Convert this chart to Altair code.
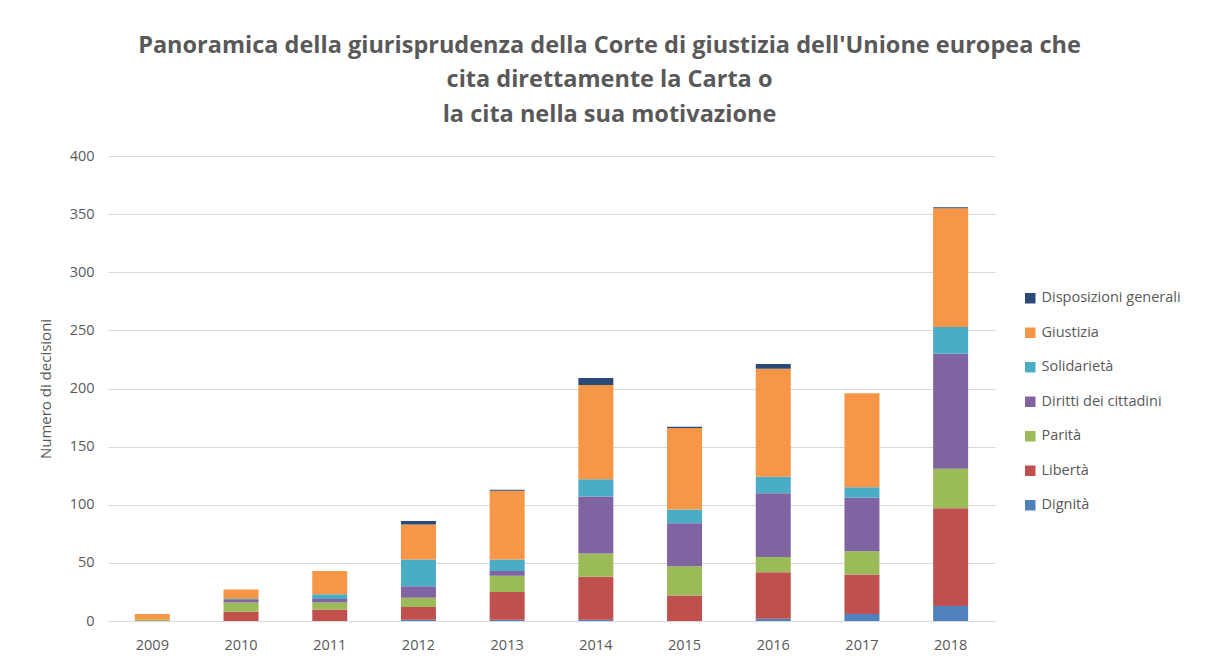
import altair as alt
import pandas as pd

years = ["2009", "2010", "2011", "2012", "2013", "2014", "2015", "2016", "2017", "2018"]
categories = ["Dignità", "Libertà", "Parità", "Diritti dei cittadini", "Solidarietà", "Giustizia", "Disposizioni generali"]
colors = ["#4F81BD", "#C0504D", "#9BBB59", "#8064A2", "#4BACC6", "#F79646", "#2A4A7A"]

dignita = [0, 0, 0, 1, 1, 1, 0, 2, 6, 13]
liberta = [0, 8, 10, 11, 24, 37, 22, 40, 34, 84]
parita = [1, 8, 6, 8, 14, 20, 25, 13, 20, 34]
diritti = [0, 2, 3, 10, 4, 49, 37, 55, 46, 99]
solidarieta = [0, 1, 4, 23, 10, 15, 12, 14, 9, 23]
giustizia = [5, 8, 20, 30, 59, 81, 70, 93, 81, 102]
disposizioni = [0, 0, 0, 3, 1, 6, 1, 4, 0, 1]

series = [dignita, liberta, parita, diritti, solidarieta, giustizia, disposizioni]

rows = []
for ci, (cat, vals) in enumerate(zip(categories, series)):
    for y, v in zip(years, vals):
        rows.append({"Anno": y, "Categoria": cat, "Valore": v, "ordine": ci})
df = pd.DataFrame(rows)

legend_domain = list(reversed(categories))
legend_range = list(reversed(colors))

FONT = "Open Sans"
GREY = "#595959"

chart = alt.Chart(df).mark_bar(size=35).encode(
    x=alt.X("Anno:N", title=None, sort=years,
            axis=alt.Axis(labelAngle=0, labelFontSize=14.5, labelColor=GREY, labelFont=FONT,
                          domainColor="#D9D9D9", ticks=False, labelPadding=17)),
    y=alt.Y("Valore:Q", title="Numero di decisioni", stack="zero",
            scale=alt.Scale(domain=[0, 400]),
            axis=alt.Axis(values=[0, 50, 100, 150, 200, 250, 300, 350, 400],
                          labelFontSize=14.5, labelColor=GREY, labelFont=FONT,
                          domain=False, ticks=False, labelPadding=14,
                          gridColor="#D9D9D9", titleFontSize=15, titleColor=GREY,
                          titleFont=FONT, titleFontWeight="normal", titlePadding=16)),
    color=alt.Color("Categoria:N",
                    scale=alt.Scale(domain=legend_domain, range=legend_range),
                    legend=alt.Legend(title=None, orient="none", legendX=915, legendY=135,
                                      symbolType="square", symbolSize=110, symbolStrokeWidth=0,
                                      labelFontSize=14.5, labelColor=GREY, labelFont=FONT,
                                      rowPadding=19.5, labelOffset=4)),
    order=alt.Order("ordine:Q", sort="ascending"),
).properties(
    width=887,
    height=465,
    title=alt.TitleParams(
        text=["Panoramica della giurisprudenza della Corte di giustizia dell'Unione europea che",
              "cita direttamente la Carta o",
              "la cita nella sua motivazione"],
        fontSize=23.5, font=FONT, fontWeight="bold", color=GREY,
        anchor="middle", lineHeight=34.5, offset=22, dx=58),
    autosize=alt.AutoSizeParams(type="none"),
    padding={"left": 100, "top": 148, "right": 200, "bottom": 32},
).configure(background="white").configure_view(stroke=None)

chart.save("out.html", embed_options={"renderer": "svg", "actions": False})
